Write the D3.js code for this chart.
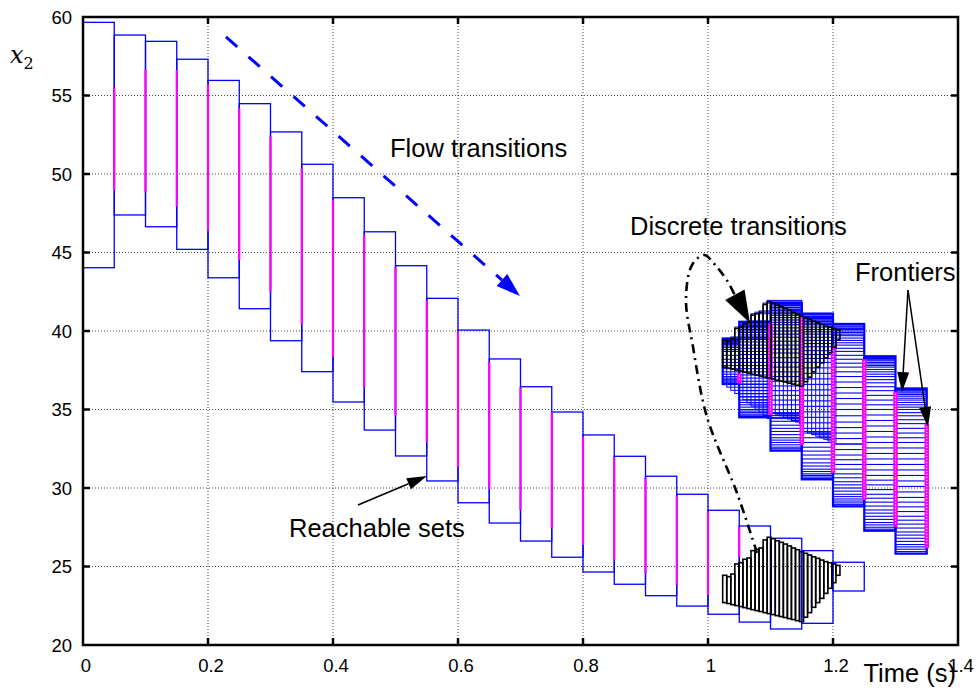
<!DOCTYPE html>
<html>
<head>
<meta charset="utf-8">
<script src="https://cdn.jsdelivr.net/npm/d3@7"></script>
<style>
body { margin: 0; background: #fff; }
text { font-family: "Liberation Sans", Arial, sans-serif; fill: #000; }
</style>
</head>
<body>
<div id="chart"></div>
<script>
// axis ticks
const xTicks = [0, 0.2, 0.4, 0.6, 0.8, 1, 1.2, 1.4];
const yTicks = [20, 25, 30, 35, 40, 45, 50, 55, 60];

// flow pipe before the jump: one box per time step of 0.05 s
const flowStep = 0.05;
const flowTop = [59.66, 58.85, 58.45, 57.31, 55.96, 54.48, 52.68, 50.62, 48.49, 46.32, 44.16, 42.08, 40.06,
                 38.22, 36.45, 34.84, 33.38, 32.02, 30.75, 29.60, 28.58, 27.58, 26.80, 26.01, 25.27];
const flowBot = [44.03, 47.39, 46.64, 45.20, 43.39, 41.42, 39.38, 37.41, 35.48, 33.69, 32.04, 30.45, 29.06,
                 27.77, 26.62, 25.59, 24.65, 23.87, 23.14, 22.48, 21.96, 21.46, 21.02, 21.38, 23.44];

// frontiers (magenta) at t = 0.05, 0.10, ...
const frontHi = [55.50, 56.67, 56.62, 55.71, 54.18, 52.38, 50.36, 48.34, 46.11, 44.03, 41.93,
                 39.96, 38.04, 36.39, 34.82, 33.27, 31.93, 30.62, 29.49, 28.49, 27.52];
const frontLo = [48.94, 48.87, 47.92, 46.37, 44.52, 42.50, 40.43, 38.36, 36.41, 34.61, 32.93,
                 31.32, 29.92, 28.60, 27.43, 26.37, 25.41, 24.57, 23.82, 23.18, 25.60];

// guard-crossing slices (black) and the same slices after the reset
const jumpStart = 1.0235;
const jumpStep = 0.00647;
const guardTop = [24.44, 24.35, 24.52, 25.16, 25.24, 25.46, 25.54, 26.01, 26.10, 26.18, 26.69, 26.86, 26.77, 26.64, 26.54,
                  26.43, 26.31, 26.18, 26.07, 25.94, 25.84, 25.73, 25.62, 25.52, 25.41, 25.31, 25.24, 25.16, 25.07];
const guardBot = [22.70, 22.64, 22.57, 22.51, 22.45, 22.38, 22.32, 22.25, 22.19, 22.13, 22.06, 22.00, 21.94, 21.87, 21.81,
                  21.75, 21.68, 21.62, 21.55, 21.49, 21.77, 22.06, 22.40, 22.70, 22.97, 23.29, 23.61, 23.97, 24.44];
const resetTop = [39.44, 39.35, 39.52, 40.16, 40.24, 40.46, 40.54, 41.01, 41.10, 41.18, 41.69, 41.86, 41.77, 41.64, 41.54,
                  41.43, 41.31, 41.18, 41.07, 40.94, 40.84, 40.73, 40.62, 40.52, 40.41, 40.31, 40.24, 40.16, 40.07];
const resetBot = [37.70, 37.64, 37.57, 37.51, 37.45, 37.38, 37.32, 37.25, 37.19, 37.13, 37.06, 37.00, 36.94, 36.87, 36.81,
                  36.75, 36.68, 36.62, 36.55, 36.49, 36.77, 37.06, 37.40, 37.70, 37.97, 38.29, 38.61, 38.97, 39.44];

// first flow step of each reset slice (nested staircase boxes)
const stairTop = [39.55, 39.48, 39.62, 40.25, 40.33, 40.55, 40.63, 41.10, 41.20, 41.28, 41.78, 41.95, 41.86, 41.72, 41.62,
                  41.50, 41.38, 41.26, 41.15, 41.02, 40.92, 40.82, 40.70, 40.60, 40.50, 40.40, 40.32, 40.24, 40.15];
const stairBot = [36.62, 36.42, 36.22, 36.02, 35.82, 35.62, 35.42, 35.22, 35.02, 34.82, 34.62, 34.42, 34.80, 34.70, 34.60,
                  34.50, 34.40, 34.30, 34.20, 34.10, 33.60, 33.50, 33.40, 33.30, 33.20, 33.10, 33.00, 32.90, 32.80];
const stairEnd = [1.10, 1.10, 1.10, 1.10, 1.10, 1.10, 1.10, 1.10, 1.10, 1.10, 1.15, 1.15, 1.15, 1.15, 1.15,
                  1.15, 1.15, 1.15, 1.15, 1.15, 1.20, 1.20, 1.20, 1.20, 1.20, 1.20, 1.20, 1.20, 1.25];

// flow pipes after the jump, grouped per time step
const blockStart = [1.0235, 1.05, 1.10, 1.15, 1.20, 1.25, 1.30];
const blockEnd   = [1.05, 1.10, 1.15, 1.20, 1.25, 1.30, 1.35];
const blockLines = [
  [39.51, 39.45, 39.40, 39.34, 39.28, 39.21, 39.15, 39.05, 38.95, 38.82, 38.70, 38.45, 38.20, 38.00, 37.80, 37.60,
   37.40, 37.25, 37.10, 37.00, 36.90, 36.82, 36.75, 36.68, 36.62],
  [40.59, 40.52, 40.45, 40.38, 40.30, 40.20, 40.10, 40.00, 39.90, 39.75, 39.60, 39.45, 39.30, 39.10, 38.90, 38.70,
   38.50, 38.25, 38.00, 37.80, 37.60, 37.40, 37.20, 37.00, 36.80, 36.60, 36.40, 36.20, 36.00, 35.80, 35.60, 35.45,
   35.30, 35.15, 35.00, 34.90, 34.80, 34.70, 34.60, 34.55, 34.50],
  [41.78, 41.70, 41.60, 41.50, 41.40, 41.30, 41.20, 41.10, 41.00, 40.85, 40.70, 40.55, 40.40, 40.20, 40.00, 39.80,
   39.60, 39.35, 39.10, 38.85, 38.60, 38.30, 38.00, 37.70, 37.40, 37.10, 36.80, 36.50, 36.20, 35.90, 35.60, 35.30,
   35.00, 34.75, 34.50, 34.25, 34.00, 33.80, 33.60, 33.40, 33.20, 33.05, 32.90, 32.75, 32.60, 32.50, 32.38],
  [41.11, 41.03, 40.95, 40.87, 40.80, 40.70, 40.60, 40.50, 40.40, 40.25, 40.10, 39.95, 39.80, 39.60, 39.40, 39.20,
   39.00, 38.75, 38.50, 38.25, 38.00, 37.65, 37.30, 36.95, 36.60, 36.25, 35.90, 35.55, 35.20, 34.85, 34.50, 34.15,
   33.80, 33.50, 33.20, 32.90, 32.60, 32.35, 32.10, 31.85, 31.60, 31.40, 31.20, 31.05, 30.90, 30.80, 30.70, 30.62, 30.55],
  [40.45, 40.38, 40.30, 40.20, 40.10, 40.00, 39.90, 39.80, 39.70, 39.55, 39.40, 39.25, 39.10, 38.90, 38.70, 38.45,
   38.20, 37.95, 37.70, 37.40, 37.10, 36.75, 36.40, 36.05, 35.70, 35.35, 35.00, 34.60, 34.20, 33.85, 33.50, 33.15,
   32.80, 32.45, 32.10, 31.80, 31.50, 31.20, 30.90, 30.65, 30.40, 30.20, 30.00, 29.80, 29.60, 29.45, 29.30, 29.17,
   29.05, 28.94, 28.83],
  [38.39, 38.32, 38.25, 38.17, 38.10, 38.00, 37.90, 37.80, 37.70, 37.55, 37.40, 37.25, 37.10, 36.90, 36.70, 36.45,
   36.20, 35.90, 35.60, 35.30, 35.00, 34.65, 34.30, 33.95, 33.60, 33.25, 32.90, 32.55, 32.20, 31.85, 31.50, 31.15,
   30.80, 30.50, 30.20, 29.90, 29.60, 29.35, 29.10, 28.85, 28.60, 28.40, 28.20, 28.00, 27.80, 27.65, 27.50, 27.38, 27.28],
  [36.34, 36.27, 36.20, 36.12, 36.05, 35.95, 35.85, 35.72, 35.60, 35.45, 35.30, 35.15, 35.00, 34.80, 34.60, 34.35,
   34.10, 33.80, 33.50, 33.20, 32.90, 32.55, 32.20, 31.85, 31.50, 31.15, 30.80, 30.45, 30.10, 29.75, 29.40, 29.10,
   28.80, 28.50, 28.20, 27.95, 27.70, 27.45, 27.20, 27.00, 26.80, 26.60, 26.40, 26.25, 26.10, 25.95, 25.82]
];
const clusterFrontT  = [1.05, 1.10, 1.15, 1.20, 1.25, 1.30, 1.35];
const clusterFrontHi = [37.29, 40.49, 40.91, 39.11, 38.20, 36.13, 34.08];
const clusterFrontLo = [36.66, 34.65, 32.74, 30.96, 29.24, 27.53, 26.16];

// annotation anchors in data units
const flowArrow = [[0.2288, 58.73], [0.6992, 42.23]];
const reachArrow = [[0.44, 28.92], [0.5504, 30.76]];
const jumpCurve = [[1.0784, 25.86], [1.0464, 29.68], [0.9984, 34.52], [0.976, 38.98], [0.9648, 41.97],
                   [0.9744, 44.20], [0.9936, 44.84], [1.0128, 44.14], [1.032, 43.12], [1.0450, 42.10]];
const jumpTip = [1.0672, 40.51];
const frontArrows = [[[1.32, 42.61], [1.3104, 36.11]], [[1.32, 42.61], [1.352, 33.89]]];
const labels = [
  {text: "Flow transitions", t: 0.4912, v: 51.08},
  {text: "Discrete transitions", t: 0.8752, v: 46.11},
  {text: "Frontiers", t: 1.2352, v: 43.18},
  {text: "Reachable sets", t: 0.3296, v: 26.88}
];

const width = 979, height = 693;
const margin = {top: 17, right: 21, bottom: 48, left: 83};

const x = d3.scaleLinear().domain([0, 1.4]).range([margin.left, width - margin.right]);
const y = d3.scaleLinear().domain([20, 60]).range([height - margin.bottom, margin.top]);

const svg = d3.select("#chart").append("svg")
    .attr("width", width)
    .attr("height", height);

// grid
svg.append("g").selectAll("line")
    .data(xTicks.slice(1, -1))
    .enter().append("line")
    .attr("x1", d => x(d)).attr("x2", d => x(d))
    .attr("y1", y(20)).attr("y2", y(60))
    .attr("stroke", "#444").attr("stroke-width", 1).attr("stroke-dasharray", "1,2");
svg.append("g").selectAll("line")
    .data(yTicks.slice(1, -1))
    .enter().append("line")
    .attr("x1", x(0)).attr("x2", x(1.4))
    .attr("y1", d => y(d)).attr("y2", d => y(d))
    .attr("stroke", "#444").attr("stroke-width", 1).attr("stroke-dasharray", "1,2");

// flow pipe boxes
svg.append("g").selectAll("rect")
    .data(flowTop.map((top, i) => ({i, top, bot: flowBot[i]})))
    .enter().append("rect")
    .attr("x", d => x(d.i * flowStep))
    .attr("y", d => y(d.top))
    .attr("width", x(flowStep) - x(0))
    .attr("height", d => y(d.bot) - y(d.top))
    .attr("fill", "none")
    .attr("stroke", "#0000ff")
    .attr("stroke-width", 1.3);

// flow pipes after the jump
svg.append("g").selectAll("rect")
    .data(stairTop.map((top, i) => ({i, top, bot: stairBot[i], end: stairEnd[i]})))
    .enter().append("rect")
    .attr("x", d => x(jumpStart + d.i * jumpStep))
    .attr("y", d => y(d.top))
    .attr("width", d => x(d.end) - x(jumpStart + d.i * jumpStep))
    .attr("height", d => y(d.bot) - y(d.top))
    .attr("fill", "none")
    .attr("stroke", "#0000ff").attr("stroke-width", 1);

blockLines.forEach((lines, j) => {
  const g = svg.append("g");
  g.selectAll("line")
    .data(lines)
    .enter().append("line")
    .attr("x1", x(blockStart[j])).attr("x2", x(blockEnd[j]))
    .attr("y1", d => y(d)).attr("y2", d => y(d))
    .attr("stroke", "#0000ff").attr("stroke-width", 1.1);
  g.append("rect")
    .attr("x", x(blockStart[j]))
    .attr("y", y(d3.max(lines)))
    .attr("width", x(blockEnd[j]) - x(blockStart[j]))
    .attr("height", y(d3.min(lines)) - y(d3.max(lines)))
    .attr("fill", "none")
    .attr("stroke", "#0000ff").attr("stroke-width", 2.2);
});

// frontiers
svg.append("g").selectAll("line")
    .data(frontHi.map((hi, i) => ({t: (i + 1) * flowStep, hi, lo: frontLo[i]})))
    .enter().append("line")
    .attr("x1", d => x(d.t)).attr("x2", d => x(d.t))
    .attr("y1", d => y(d.hi)).attr("y2", d => y(d.lo))
    .attr("stroke", "#ff00ff").attr("stroke-width", 2.2);

const cf = clusterFrontT.map((t, i) => ({t, hi: clusterFrontHi[i], lo: clusterFrontLo[i]}));
svg.append("g").selectAll("line")
    .data(cf)
    .enter().append("line")
    .attr("x1", d => x(d.t)).attr("x2", d => x(d.t))
    .attr("y1", d => y(d.hi)).attr("y2", d => y(d.lo))
    .attr("stroke", "#ff00ff").attr("stroke-width", 4.5);
svg.append("g").selectAll("line")
    .data(cf)
    .enter().append("line")
    .attr("x1", d => x(d.t)).attr("x2", d => x(d.t))
    .attr("y1", d => y(d.hi) + 2).attr("y2", d => y(d.lo) - 2)
    .attr("stroke", "#fff").attr("stroke-width", 1).attr("stroke-dasharray", "1,2");

// slices hitting the guard and after reset
function drawSlices(tops, bots) {
  svg.append("g").selectAll("rect")
    .data(tops.map((top, i) => ({i, top, bot: bots[i]})))
    .enter().append("rect")
    .attr("x", d => x(jumpStart + d.i * jumpStep))
    .attr("y", d => y(d.top))
    .attr("width", x(jumpStep) - x(0))
    .attr("height", d => y(d.bot) - y(d.top))
    .attr("fill", "none")
    .attr("stroke", "#000")
    .attr("stroke-width", 1.6);
}
drawSlices(guardTop, guardBot);
drawSlices(resetTop, resetBot);

// frame, ticks and labels
const frame = svg.append("g");
xTicks.slice(1, -1).forEach(d => {
  frame.append("line").attr("x1", x(d)).attr("x2", x(d)).attr("y1", y(20)).attr("y2", y(20) - 7)
    .attr("stroke", "#000").attr("stroke-width", 2.5);
  frame.append("line").attr("x1", x(d)).attr("x2", x(d)).attr("y1", y(60)).attr("y2", y(60) + 7)
    .attr("stroke", "#000").attr("stroke-width", 2.5);
});
yTicks.slice(1, -1).forEach(d => {
  frame.append("line").attr("x1", x(0)).attr("x2", x(0) + 7).attr("y1", y(d)).attr("y2", y(d))
    .attr("stroke", "#000").attr("stroke-width", 2.5);
  frame.append("line").attr("x1", x(1.4)).attr("x2", x(1.4) - 7).attr("y1", y(d)).attr("y2", y(d))
    .attr("stroke", "#000").attr("stroke-width", 2.5);
});
frame.append("rect")
    .attr("x", x(0)).attr("y", y(60))
    .attr("width", x(1.4) - x(0)).attr("height", y(20) - y(60))
    .attr("fill", "none").attr("stroke", "#000").attr("stroke-width", 2.5);

svg.append("g").selectAll("text")
    .data(xTicks)
    .enter().append("text")
    .attr("x", d => x(d) + 3)
    .attr("y", y(20) + 27)
    .attr("text-anchor", "middle")
    .style("font-size", "18.5px")
    .text(d => d);
svg.append("g").selectAll("text")
    .data(yTicks)
    .enter().append("text")
    .attr("x", x(0) - 11)
    .attr("y", d => y(d) + 6.5)
    .attr("text-anchor", "end")
    .style("font-size", "18.5px")
    .text(d => d);

svg.append("text")
    .attr("x", x(1.4) - 2).attr("y", height - 11)
    .attr("text-anchor", "end")
    .style("font-size", "25.5px")
    .text("Time (s)");

const yl = svg.append("text")
    .attr("x", 10).attr("y", 63)
    .style("font-family", "'DejaVu Serif', 'Liberation Serif', serif")
    .style("font-style", "italic")
    .style("font-size", "24px")
    .text("x");
yl.append("tspan")
    .attr("dy", 6)
    .style("font-style", "normal")
    .style("font-size", "16px")
    .text("2");

// annotations
function arrowHead(p0, p1, len, wid, color) {
  const dx = p1[0] - p0[0], dy = p1[1] - p0[1];
  const L = Math.hypot(dx, dy), ux = dx / L, uy = dy / L;
  const bx = p1[0] - ux * len, by = p1[1] - uy * len;
  svg.append("path")
    .attr("d", `M${p1[0]},${p1[1]}L${bx - uy * wid / 2},${by + ux * wid / 2}L${bx + uy * wid / 2},${by - ux * wid / 2}Z`)
    .attr("fill", color);
  return [bx, by];
}
const px = p => [x(p[0]), y(p[1])];

{
  const a = px(flowArrow[0]), b = px(flowArrow[1]);
  const base = arrowHead(a, b, 24, 16, "#0000ff");
  svg.append("line")
    .attr("x1", a[0]).attr("y1", a[1]).attr("x2", base[0]).attr("y2", base[1])
    .attr("stroke", "#0000ff").attr("stroke-width", 3).attr("stroke-dasharray", "15,15");
}
{
  const a = px(reachArrow[0]), b = px(reachArrow[1]);
  const base = arrowHead(a, b, 20, 12, "#000");
  svg.append("line")
    .attr("x1", a[0]).attr("y1", a[1]).attr("x2", base[0]).attr("y2", base[1])
    .attr("stroke", "#000").attr("stroke-width", 1.5);
}
frontArrows.forEach(seg => {
  const a = px(seg[0]), b = px(seg[1]);
  const base = arrowHead(a, b, 20, 12, "#000");
  svg.append("line")
    .attr("x1", a[0]).attr("y1", a[1]).attr("x2", base[0]).attr("y2", base[1])
    .attr("stroke", "#000").attr("stroke-width", 1.5);
});
{
  const line = d3.line().x(d => x(d[0])).y(d => y(d[1])).curve(d3.curveCatmullRom);
  svg.append("path")
    .attr("d", line(jumpCurve))
    .attr("fill", "none")
    .attr("stroke", "#000").attr("stroke-width", 2.6)
    .attr("stroke-dasharray", "9,5,2,5");
  arrowHead(px(jumpCurve[jumpCurve.length - 2]), px(jumpTip), 32, 22, "#000");
}

svg.append("g").selectAll("text")
    .data(labels)
    .enter().append("text")
    .attr("x", d => x(d.t))
    .attr("y", d => y(d.v))
    .style("font-size", "25.5px")
    .text(d => d.text);
</script>
</body>
</html>
